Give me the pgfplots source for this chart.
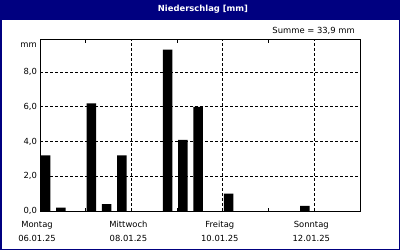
\documentclass[border=0pt]{standalone}
\usepackage{fontspec}
\setmainfont{DejaVu Sans}
\usepackage{pgfplots}
\pgfplotsset{compat=1.18}
\definecolor{navy}{HTML}{000080}
\begin{document}
\fontsize{8.4bp}{14bp}\selectfont
\begin{tikzpicture}
\useasboundingbox (0,0) rectangle (400bp,250bp);
\fill[white] (0,0) rectangle (400bp,250bp);
\fill[navy] (0,230bp) rectangle (400bp,250bp);
\draw[navy, line width=1.5bp] (0.75bp,0.75bp) rectangle (399.25bp,249.25bp);
\node[white, font=\bfseries] at (203bp,240.5bp) {Niederschlag [mm]};
\node[anchor=east, inner sep=0pt] at (355bp,219bp) {Summe = 33,9 mm};
\node[anchor=east, inner sep=0pt] at (37bp,205bp) {mm};
\begin{axis}[
 at={(40bp,39bp)}, anchor=origin,
 scale only axis, width=320bp, height=171bp,
 xmin=0, xmax=168, ymin=0, ymax=9.85,
 axis line style={black, line width=1bp},
 xtick={0,48,96,144},
 xticklabels={Montag\\06.01.25, Mittwoch\\08.01.25, Freitag\\10.01.25, Sonntag\\12.01.25},
 xticklabel style={align=center, xshift=-3bp, yshift=-7.5bp},
 minor xtick={24,72,120,168},
 ytick={0,2,4,6,8},
 /pgf/number format/fixed,
 /pgf/number format/fixed zerofill,
 /pgf/number format/precision=1,
 /pgf/number format/use comma,
 /pgf/number format/assume math mode=true,
 tick align=inside,
 major tick length=0pt,
 minor tick length=3bp,
 minor tick style={black, line width=0.8bp},
 grid=major,
 major grid style={black, line width=0.8bp, dash pattern=on 3bp off 2bp},
]
\addplot[ybar, bar width=9.5bp, fill=black, draw=none] coordinates {
 (3,3.2) (11,0.2) (27,6.2) (35,0.4) (43,3.2) (67,9.3) (75,4.1) (83,6.0) (99,1.0) (139,0.3)
};
\end{axis}
\end{tikzpicture}
\end{document}
